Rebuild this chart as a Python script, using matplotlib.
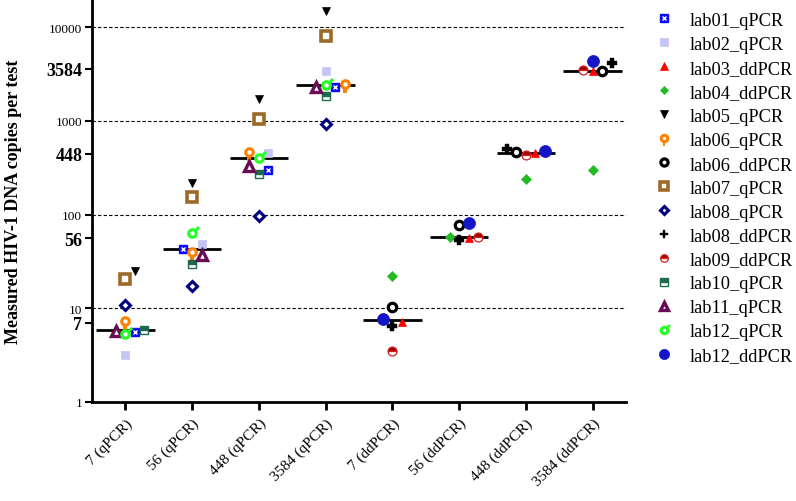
import matplotlib
matplotlib.use('Agg')
import matplotlib.pyplot as plt
import numpy as np
from matplotlib.path import Path
from matplotlib.legend_handler import HandlerTuple
from matplotlib.lines import Line2D

plt.rcParams['font.family'] = ['Liberation Serif', 'DejaVu Serif']

categories = ['7 (qPCR)', '56 (qPCR)', '448 (qPCR)', '3584 (qPCR)',
              '7 (ddPCR)', '56 (ddPCR)', '448 (ddPCR)', '3584 (ddPCR)']

# measured values per lab, qPCR labs -> first 4 categories, ddPCR labs -> last 4
lab01_qPCR = [5.6, 43, 296, 2280]
lab02_qPCR = [3.2, 49, 460, 3380]
lab03_ddPCR = [7.2, 56.8, 449, 3380]
lab04_ddPCR = [22.3, 58, 237, 296]
lab05_qPCR = [25.2, 215, 1700, 14800]
lab06_qPCR = [7.3, 40, 467, 2455]
lab06_ddPCR = [10.4, 78, 467, 3380]
lab07_qPCR = [20.7, 156, 1038, 8010]
lab08_qPCR = [10.9, 17.4, 97.6, 918]
lab08_ddPCR = [6.5, 54, 496, 4120]
lab09_ddPCR = [3.5, 58, 437, 3467]
lab10_qPCR = [5.9, 30, 268, 1828]
lab11_qPCR = [5.7, 37.5, 334, 2282]
lab12_qPCR = [5.3, 64, 397, 2400]
lab12_ddPCR = [7.7, 82, 483, 4330]

labs = ['lab01_qPCR', 'lab02_qPCR', 'lab03_ddPCR', 'lab04_ddPCR', 'lab05_qPCR',
        'lab06_qPCR', 'lab06_ddPCR', 'lab07_qPCR', 'lab08_qPCR', 'lab08_ddPCR',
        'lab09_ddPCR', 'lab10_qPCR', 'lab11_qPCR', 'lab12_qPCR', 'lab12_ddPCR']
lab_values = [lab01_qPCR, lab02_qPCR, lab03_ddPCR, lab04_ddPCR, lab05_qPCR,
              lab06_qPCR, lab06_ddPCR, lab07_qPCR, lab08_qPCR, lab08_ddPCR,
              lab09_ddPCR, lab10_qPCR, lab11_qPCR, lab12_qPCR, lab12_ddPCR]

ytick_vals = [1, 7, 10, 56, 100, 448, 1000, 3584, 10000]
ytick_bold = [False, True, False, True, False, True, False, True, False]


# custom stems for the "pin" shaped markers
stem_down = Path([(-0.17, -1.0), (0.17, -1.0), (0.17, -0.42), (-0.17, -0.42), (-0.17, -1.0)],
                 [Path.MOVETO, Path.LINETO, Path.LINETO, Path.LINETO, Path.CLOSEPOLY])
u = np.array([np.cos(np.pi / 4), np.sin(np.pi / 4)])
p = np.array([-u[1], u[0]])
w = 0.2
a, b = 0.5, 1.414 - w
stem_ur = Path([a * u - w * p, b * u - w * p, b * u + w * p, a * u + w * p, a * u - w * p],
               [Path.MOVETO, Path.LINETO, Path.LINETO, Path.LINETO, Path.CLOSEPOLY])

M = 6.4
styles = {
    'lab01_qPCR': [dict(marker='s', ms=M, mfc='#0a0aff', mec='#0a0aff', mew=1),
                   dict(marker='x', ms=M * 0.45, mec='white', mew=1.0)],
    'lab02_qPCR': [dict(marker='s', ms=M, mfc='#c4c4f7', mec='#c4c4f7', mew=0.5)],
    'lab03_ddPCR': [dict(marker='^', ms=M, mfc='#ff0000', mec='#ff0000', mew=0.5)],
    'lab04_ddPCR': [dict(marker='D', ms=M * 0.8, mfc='#22bb22', mec='#22bb22', mew=0.5)],
    'lab05_qPCR': [dict(marker='v', ms=M, mfc='black', mec='black', mew=0.5)],
    'lab06_qPCR': [dict(marker=stem_down, ms=M * 2.0, mfc='#ff8000', mec='#ff8000', mew=0),
                   dict(marker='o', ms=M * 0.85, mfc='white', mec='#ff8000', mew=2.2)],
    'lab06_ddPCR': [dict(marker='o', ms=M * 0.95, mfc='white', mec='black', mew=2.3)],
    'lab07_qPCR': [dict(marker='s', ms=M * 1.05, mfc='white', mec='#9c6a28', mew=2.6)],
    'lab08_qPCR': [dict(marker='D', ms=M * 0.75, mfc='white', mec='#000080', mew=2.2)],
    'lab08_ddPCR': [dict(marker='P', ms=M * 1.05, mfc='black', mec='black', mew=0.3)],
    'lab09_ddPCR': [dict(marker='o', ms=M, fillstyle='top', mfc='#a00000', mfcalt='white',
                         mec='#d02020', mew=0.9)],
    'lab10_qPCR': [dict(marker='s', ms=M, fillstyle='top', mfc='#1e6b4b', mfcalt='white',
                        mec='#1e6b4b', mew=1.0)],
    'lab11_qPCR': [dict(marker='^', ms=M * 1.05, mfc='white', mec='#6a0b56', mew=2.4)],
    'lab12_qPCR': [dict(marker=stem_ur, ms=M * 1.7, mfc='#22ff22', mec='#22ff22', mew=0),
                   dict(marker='o', ms=M * 0.85, mfc='white', mec='#22ff22', mew=2.2)],
    'lab12_ddPCR': [dict(marker='o', ms=M * 1.35, mfc='#1515c8', mec='#1515c8', mew=0.5)],
}


fig = plt.figure(figsize=(7.96, 5.02), dpi=100)
ax = fig.add_axes([92 / 796, 99 / 502, 534 / 796, 403 / 502])
ax.set_yscale('log')
ax.set_xlim(-0.5, len(categories) - 0.5)
ax.set_ylim(1, 20000)

# collect points per category
cat_points = {i: [] for i in range(len(categories))}
for li, (name, vals) in enumerate(zip(labs, lab_values)):
    start = 0 if name.endswith('_qPCR') else 4
    for k, v in enumerate(vals):
        cat_points[start + k].append((li, v))


def swarm(cat, pts, d_px=9.5):
    # simple beeswarm in pixel space
    px_per_cat = ax.transData.transform((1, 1))[0] - ax.transData.transform((0, 1))[0]
    ys = [ax.transData.transform((cat, v))[1] for _, v in pts]
    order = np.argsort(ys)
    placed = []
    offs = [0.0] * len(pts)
    for i in order:
        for k in [0, 1, -1, 2, -2, 3, -3, 4, -4]:
            x = k * d_px
            if all((x - px) ** 2 + (ys[i] - py) ** 2 >= d_px ** 2 for px, py in placed):
                placed.append((x, ys[i]))
                offs[i] = x / px_per_cat
                break
    return offs


xs_by_lab = {li: [] for li in range(len(labs))}
ys_by_lab = {li: [] for li in range(len(labs))}
for cat, pts in cat_points.items():
    offs = swarm(cat, pts)
    for (li, v), o in zip(pts, offs):
        xs_by_lab[li].append(cat + o)
        ys_by_lab[li].append(v)
    med = np.median([v for _, v in pts])
    ax.plot([cat - 0.44, cat + 0.44], [med, med], color='black', lw=2, zorder=3, solid_capstyle='butt')

for yv in [10, 100, 1000, 10000]:
    ax.axhline(yv, color='black', ls=(0, (3, 2)), lw=0.8, zorder=1)

handles = []
for li, name in enumerate(labs):
    layers = []
    for st in styles[name]:
        ax.plot(xs_by_lab[li], ys_by_lab[li], ls='none', zorder=4, **st)
        layers.append(Line2D([], [], ls='none', **st))
    handles.append(tuple(layers))

ax.set_yticks(ytick_vals)
ax.set_yticklabels([str(v) for v in ytick_vals])
ax.yaxis.set_minor_locator(matplotlib.ticker.NullLocator())
for lab, bold in zip(ax.get_yticklabels(), ytick_bold):
    if bold:
        lab.set_fontweight('bold')
        lab.set_fontsize(13)
    else:
        lab.set_fontsize(9.5)

ax.set_xticks(range(len(categories)))
ax.set_xticklabels(categories, rotation=45, ha='right', rotation_mode='anchor', fontsize=11)
ax.tick_params(axis='x', length=6, width=2, pad=4)
ax.tick_params(axis='y', length=5, width=1.5, pad=2)

for s in ['top', 'right']:
    ax.spines[s].set_visible(False)
for s in ['left', 'bottom']:
    ax.spines[s].set_linewidth(2)

ax.set_ylabel('Measured HIV-1 DNA copies per test', fontsize=13, fontweight='bold')
ax.yaxis.set_label_coords(-70 / 534, 0.5)

fig.legend(handles, labs, handler_map={tuple: HandlerTuple(ndivide=1, pad=0)},
           loc='upper left', bbox_to_anchor=(642 / 796, 1.0), frameon=False,
           fontsize=13.2, handlelength=1.0, handletextpad=0.9, labelspacing=0.38,
           borderaxespad=0.3, markerscale=0.85)

fig.savefig('out.png', dpi=100)
